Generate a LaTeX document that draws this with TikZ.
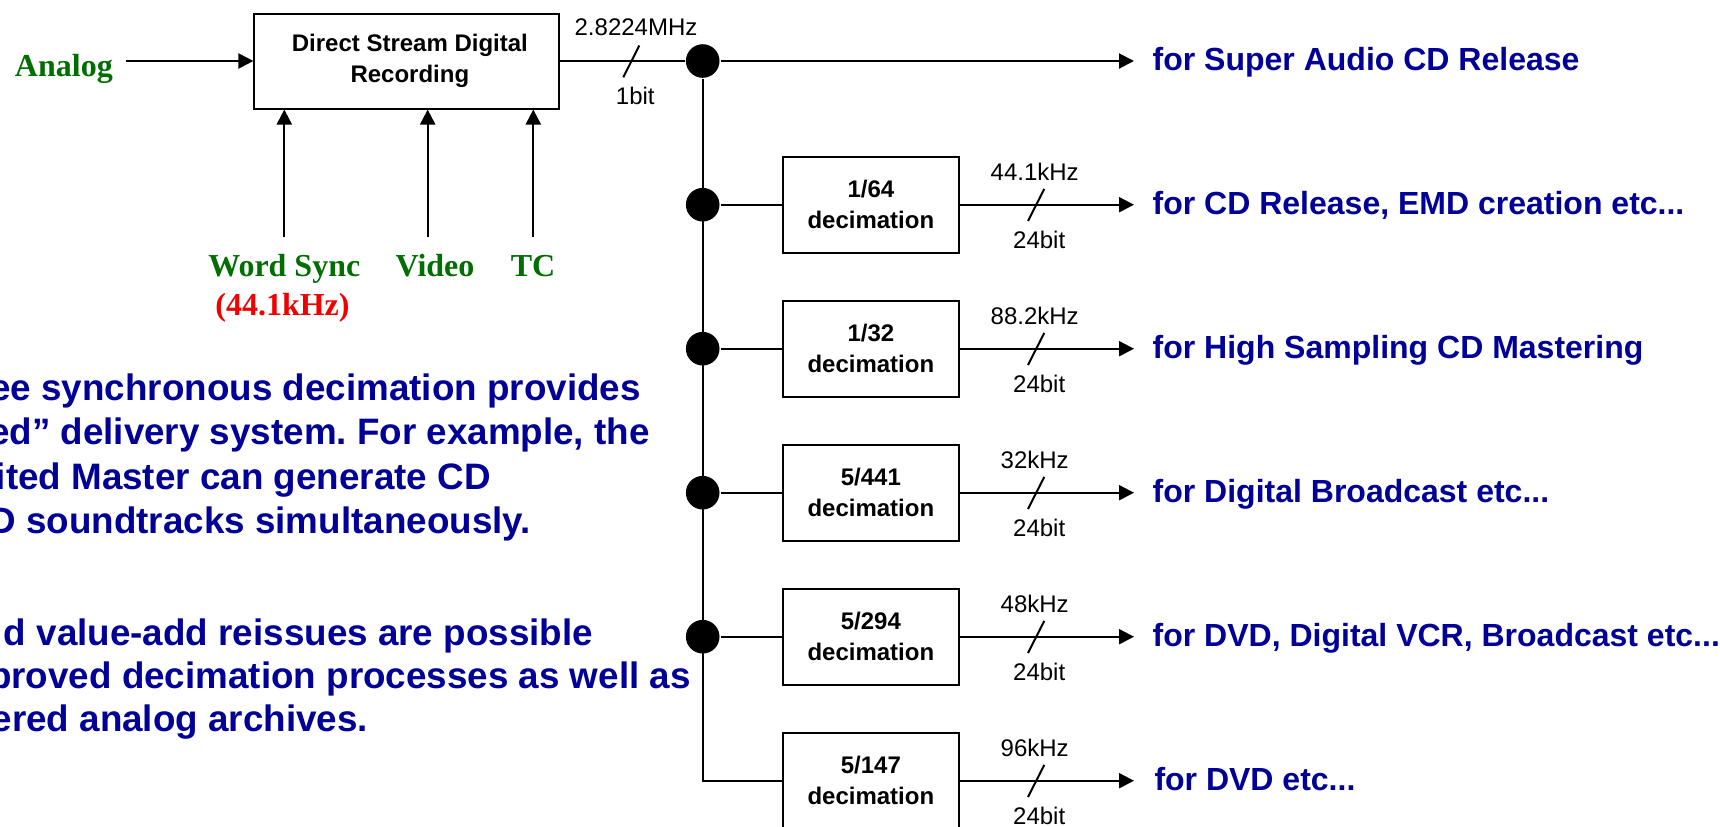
\documentclass[tikz,border=0pt]{standalone}
\usepackage{fontspec}
\setmainfont{Liberation Sans}
\newfontfamily\timesf{Liberation Serif}
\usetikzlibrary{arrows.meta}
\definecolor{dkgreen}{RGB}{0,110,0}
\definecolor{dkblue}{RGB}{0,0,153}
\definecolor{lblred}{RGB}{240,0,0}
\frenchspacing
\begin{document}
\begin{tikzpicture}[x=0.5pt,y=-0.5pt,line width=1pt,
  arr/.style={-{Triangle[length=7.5pt,width=7.5pt]}},
  dot/.style={circle,fill=black,inner sep=0pt,minimum size=16.8pt},
  mainbox/.style={draw,minimum width=152.5pt,minimum height=47.5pt,align=center,inner sep=0pt,font=\fontsize{12}{15.5}\selectfont\bfseries},
  decbox/.style={draw,minimum width=88.2pt,minimum height=48pt,align=center,inner sep=0pt,font=\fontsize{12}{15.5}\selectfont\bfseries},
  rate/.style={font=\fontsize{12}{14}\selectfont,inner sep=0pt,anchor=base},
  outlbl/.style={font=\fontsize{16}{19}\selectfont\bfseries,text=dkblue,inner sep=0pt,anchor=base west},
  para/.style={font=\fontsize{18.4}{22}\selectfont\bfseries,text=dkblue,inner sep=0pt,anchor=base east},
  srf/.style={font=\timesf\fontsize{16}{19}\selectfont\bfseries,inner sep=0pt,anchor=base}]
\useasboundingbox (0,0) rectangle (1720,826);
\clip (0,0) rectangle (1720,826);

% main recording block
\node[mainbox] (main) at (406.9,61) {\hspace*{3pt}Direct Stream Digital\\\hspace*{3pt}Recording};
\node[srf,text=dkgreen,anchor=base west] (analog) at (14,76.7) {Analog};
\coordinate (a0) at (126,61);
\draw[arr] (a0) -- (main.west);

% control inputs
\node[srf,text=dkgreen] (ws) at (284.3,276.7) {Word Sync};
\node[srf,text=lblred] (wsf) at (282.5,315) {(44.1kHz)};
\node[srf,text=dkgreen] (vid) at (435,276.7) {Video};
\node[srf,text=dkgreen] (tc) at (533,276.7) {TC};
\coordinate (ws0) at (284.3,237);
\coordinate (vi0) at (427.7,237);
\coordinate (tc0) at (533.3,237);
\draw[arr] (ws0) -- (ws0 |- main.south);
\draw[arr] (vi0) -- (vi0 |- main.south);
\draw[arr] (tc0) -- (tc0 |- main.south);

% bus dots
\node[dot] (d1) at (702.7,61) {};
\node[dot] (d2) at (702.7,204.7) {};
\node[dot] (d3) at (702.7,348.7) {};
\node[dot] (d4) at (702.7,492.7) {};
\node[dot] (d5) at (702.7,636.7) {};

% decimation blocks
\node[decbox] (b2) at (870.85,204.7) {1/64\\decimation};
\node[decbox] (b3) at (870.85,348.7) {1/32\\decimation};
\node[decbox] (b4) at (870.85,492.7) {5/441\\decimation};
\node[decbox] (b5) at (870.85,636.7) {5/294\\decimation};
\node[decbox] (b6) at (870.85,780.7) {5/147\\decimation};

% arrow ends
\coordinate (e1) at (1134,61);
\coordinate (e2) at (1134,204.7);
\coordinate (e3) at (1134,348.7);
\coordinate (e4) at (1134,492.7);
\coordinate (e5) at (1134,636.7);
\coordinate (e6) at (1134,780.7);

% connectors
\draw (main) -- (d1);
\draw[arr] (d1) -- (e1);
\draw (d1) |- (b6.west);
\draw (d2) -- (b2);
\draw (d3) -- (b3);
\draw (d4) -- (b4);
\draw (d5) -- (b5);
\draw[arr] (b2) -- (e2);
\draw[arr] (b3) -- (e3);
\draw[arr] (b4) -- (e4);
\draw[arr] (b5) -- (e5);
\draw[arr] (b6.east) -- (e6);

% bus-width slashes and rate labels
\draw (639.3,45.5) -- (623.3,77.3);
\node[rate] (r1t) at (636,35) {2.8224MHz};
\node[rate] (r1b) at (635.3,104.5) {1bit};
\draw (1044.3,188.9) -- (1028,221);
\node[rate] (r2t) at (1034.7,180) {44.1kHz};
\node[rate] (r2b) at (1039.2,248.3) {24bit};
\draw (1044.3,332.9) -- (1028,365);
\node[rate] (r3t) at (1034.7,324) {88.2kHz};
\node[rate] (r3b) at (1039.2,392.3) {24bit};
\draw (1044.3,476.9) -- (1028,509);
\node[rate] (r4t) at (1034.7,468) {32kHz};
\node[rate] (r4b) at (1039.2,536.3) {24bit};
\draw (1044.3,620.9) -- (1028,653);
\node[rate] (r5t) at (1034.7,612) {48kHz};
\node[rate] (r5b) at (1039.2,680.3) {24bit};
\draw (1044.3,764.9) -- (1028,797);
\node[rate] (r6t) at (1034.7,756) {96kHz};
\node[rate] (r6b) at (1039.2,824.3) {24bit};

% outputs
\node[outlbl] (o1) at (1151.7,70.5) {for Super Audio CD Release};
\node[outlbl] (o2) at (1151.7,214.2) {for CD Release, EMD creation etc...};
\node[outlbl] (o3) at (1151.7,358.2) {for High Sampling CD Mastering};
\node[outlbl] (o4) at (1151.7,502.2) {for Digital Broadcast etc...};
\node[outlbl] (o5) at (1151.7,646.2) {for DVD, Digital VCR, Broadcast etc...};
\node[outlbl] (o6) at (1153.5,790.2) {for DVD etc...};

% explanatory text (cut at the left edge)
\node[para] (p1) at (641.7,400.5) {ee synchronous decimation provides};
\node[para] (p2) at (650.7,444.5) {ed” delivery system. For example, the};
\node[para] (p3) at (491.7,489) {ited Master can generate CD};
\node[para] (p4) at (531.7,533.3) {D soundtracks simultaneously.};
\node[para] (p5) at (594,645) {d value-add reissues are possible};
\node[para] (p6) at (691.7,688.5) {proved decimation processes as well as};
\node[para] (p7) at (369,731) {ered analog archives.};
\end{tikzpicture}
\end{document}
